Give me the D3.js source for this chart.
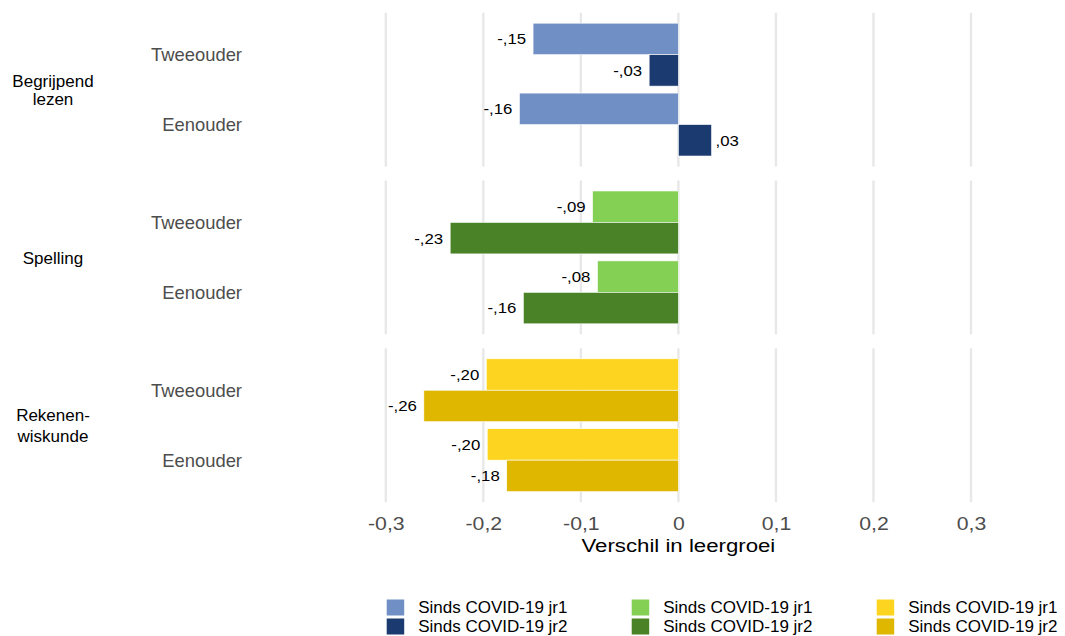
<!DOCTYPE html>
<html><head><meta charset="utf-8">
<script src="https://cdn.jsdelivr.net/npm/d3@7"></script>
<style>
html,body{margin:0;padding:0;background:#fff;}
svg{display:block;font-family:"Liberation Sans",Arial,sans-serif;}
</style></head>
<body><svg id="chart" width="1065" height="636"></svg>
<script>
// ---- data ----
const subjects = ["Begrijpend lezen", "Spelling", "Rekenen-wiskunde"];
const subjectLines = [["Begrijpend", "lezen"], ["Spelling"], ["Rekenen-", "wiskunde"]];
const groups = ["Tweeouder", "Eenouder"];
const seriesKeys = ["jr1", "jr2"];
const seriesLabels = ["Sinds COVID-19 jr1", "Sinds COVID-19 jr2"];
// values per subject: [Tweeouder, Eenouder]
const valuesJr1 = [[-0.149, -0.163], [-0.088, -0.083], [-0.197, -0.196]];
const valuesJr2 = [[-0.030, 0.034], [-0.234, -0.159], [-0.261, -0.176]];
const colorsJr1 = ["#6f8fc5", "#84d055", "#fdd520"];
const colorsJr2 = ["#1b3a70", "#4a8227", "#e0b700"];
const tickValues = [-0.3, -0.2, -0.1, 0, 0.1, 0.2, 0.3];
const tickLabels = ["-0,3", "-0,2", "-0,1", "0", "0,1", "0,2", "0,3"];
const xTitle = "Verschil in leergroei";

// ---- layout ----
const svg = d3.select("#chart");
const x = d3.scaleLinear().domain([-0.3, 0.3]).range([385.8, 971]);
const panelY = d3.scaleBand().domain(subjects).range([12.7, 502.1]).paddingInner(0.0834).paddingOuter(0);
const groupY = d3.scaleBand().domain(groups).range([0, panelY.bandwidth()]).paddingInner(0.1).paddingOuter(0.15);
const seriesY = d3.scaleBand().domain(seriesKeys).range([0, groupY.bandwidth()]);
const fmt = v => d3.format(".2f")(v).replace("\u2212", "-").replace("0.", ",");

const rows = [];
subjects.forEach((s, i) => groups.forEach((g, j) => {
  rows.push({subject: s, si: i, group: g, key: "jr1", value: valuesJr1[i][j], color: colorsJr1[i]});
  rows.push({subject: s, si: i, group: g, key: "jr2", value: valuesJr2[i][j], color: colorsJr2[i]});
}));

// panels & gridlines
const panels = svg.selectAll("g.panel").data(subjects).join("g")
  .attr("class", "panel")
  .attr("transform", d => `translate(0,${panelY(d)})`);
panels.selectAll("line.grid").data(tickValues).join("line")
  .attr("class", "grid")
  .attr("x1", d => x(d)).attr("x2", d => x(d))
  .attr("y1", 0).attr("y2", panelY.bandwidth())
  .attr("stroke", "#e8e8e8").attr("stroke-width", 2.4);

// bars
svg.append("g").selectAll("rect").data(rows).join("rect")
  .attr("x", d => Math.min(x(0), x(d.value)))
  .attr("width", d => Math.abs(x(d.value) - x(0)))
  .attr("y", d => panelY(d.subject) + groupY(d.group) + seriesY(d.key))
  .attr("height", seriesY.bandwidth())
  .attr("fill", d => d.color)
  .attr("stroke", "#ffffff").attr("stroke-width", 0.6);

// value labels
svg.append("g").selectAll("text").data(rows).join("text")
  .attr("transform", d => {
    const xx = d.value < 0 ? x(d.value) - 7 : x(d.value) + 4;
    const yy = panelY(d.subject) + groupY(d.group) + seriesY(d.key) + seriesY.bandwidth() / 2;
    return `translate(${xx},${yy}) scale(1.12,1)`;
  })
  .attr("dy", "0.36em")
  .attr("text-anchor", d => d.value < 0 ? "end" : "start")
  .attr("font-size", 15).attr("fill", "#000")
  .text(d => fmt(d.value));

// group labels (y axis)
subjects.forEach(s => {
  svg.append("g").selectAll("text").data(groups).join("text")
    .attr("x", 242)
    .attr("y", g => panelY(s) + groupY(g) + groupY.bandwidth() / 2)
    .attr("dy", "0.37em")
    .attr("text-anchor", "end")
    .attr("font-size", 18.4).attr("fill", "#4d4d4d")
    .text(g => g);
});

// facet labels
const lineGaps = [18, 0, 21.5];
subjects.forEach((s, i) => {
  const lines = subjectLines[i];
  const cy = panelY(s) + panelY.bandwidth() / 2;
  const gap = lineGaps[i];
  const first = cy - gap * (lines.length - 1) / 2;
  svg.append("g").selectAll("text").data(lines).join("text")
    .attr("x", 53)
    .attr("y", (t, k) => first + k * gap)
    .attr("dy", "0.36em")
    .attr("text-anchor", "middle")
    .attr("font-size", 17).attr("fill", "#000")
    .text(t => t);
});

// x axis
const axis = d3.axisBottom(x).tickValues(tickValues)
  .tickFormat((d, i) => tickLabels[i]).tickSize(0).tickPadding(0);
const ax = svg.append("g").attr("transform", "translate(0,530)").call(axis);
ax.select(".domain").remove();
ax.selectAll("text")
  .attr("y", 0).attr("dy", 0)
  .attr("transform", "scale(1.18,1)")
  .attr("font-size", 18).attr("fill", "#4d4d4d")
  .attr("font-family", "Liberation Sans, Arial, sans-serif");

svg.append("text")
  .attr("transform", `translate(${x(0)},551.5) scale(1.17,1)`)
  .attr("text-anchor", "middle")
  .attr("font-size", 19).attr("fill", "#000")
  .text(xTitle);

// legend
const legendX0 = 386.7, legendStep = 245;
subjects.forEach((s, i) => {
  const g = svg.append("g").attr("transform", `translate(${legendX0 + i * legendStep},599.5)`);
  const cols = [colorsJr1[i], colorsJr2[i]];
  g.selectAll("rect").data(seriesLabels).join("rect")
    .attr("x", 0).attr("y", (d, k) => k * 19)
    .attr("width", 17.5).attr("height", 16)
    .attr("fill", (d, k) => cols[k]);
  g.selectAll("text").data(seriesLabels).join("text")
    .attr("x", 31.5).attr("y", (d, k) => k * 19 + 13.5)
    .attr("font-size", 17).attr("fill", "#000")
    .text(d => d);
});
</script>
</body></html>
